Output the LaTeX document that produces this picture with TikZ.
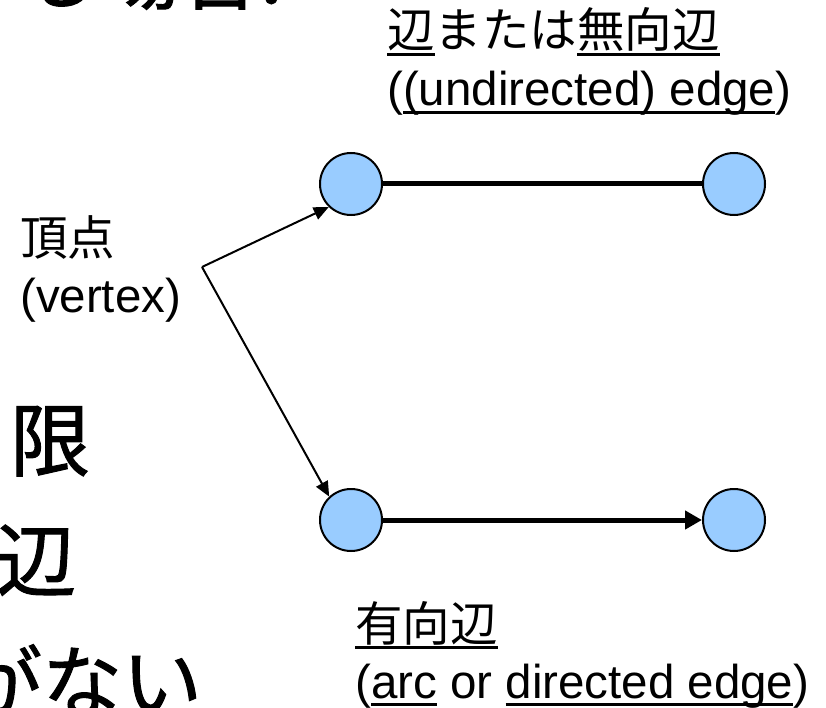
\documentclass[tikz,border=0pt]{standalone}
\usepackage{fontspec}
\setmainfont{Liberation Sans}
\newfontfamily\jp{Noto Sans CJK JP}
\newfontfamily\jpbig[FakeBold=1.2]{Noto Sans CJK JP}
\usetikzlibrary{arrows.meta}
\definecolor{vfill}{HTML}{99CCFF}
\newlength\ulwd
\newcommand\myul[1]{\settowidth{\ulwd}{#1}\rlap{\rule[-0.16em]{\ulwd}{0.065em}}#1}
\tikzset{
  vtx/.style={circle, draw=black, line width=2pt, fill=vfill, minimum size=62pt, inner sep=0pt},
  lbl/.style={anchor=base west, inner sep=0pt, font=\fontsize{47.5}{57}\selectfont},
  big/.style={anchor=base west, inner sep=0pt, font=\fontsize{80}{96}\selectfont\jpbig},
  thickedge/.style={line width=5pt},
  ptr/.style={line width=2pt, -{Triangle[length=15pt,width=13pt]}}
}
\begin{document}
\begin{tikzpicture}[x=1pt,y=-1pt]
\useasboundingbox (0,0) rectangle (826,708);
\clip (0,0) rectangle (826,708);
% cut-off body text on the left
\node[big] (t0) at (-60,3) {する場合:};
\node[big] (t1) at (10,470) {限};
\node[big] (t2) at (-4,590) {辺};
\node[big] (t3) at (-38,712) {がない};
% vertices
\node[vtx] (a) at (351,184) {};
\node[vtx] (b) at (734,184) {};
\node[vtx] (c) at (351,520) {};
\node[vtx] (d) at (734,520) {};
% edges
\draw[thickedge] (a) -- (b);
\draw[thickedge, -{Triangle[length=17pt,width=18pt]}] (c) -- (d);
% vertex label and pointers
\node[lbl] (v1) at (20,256) {\jp 頂点};
\node[lbl] (v2) at (20,312) {(vertex)};
\coordinate (vx) at (202,267);
\draw[ptr] (vx) -- (a.226);
\draw[ptr] (vx) -- (c.133);
% undirected edge label
\node[lbl] (u1) at (387,48) {\jp\myul{辺}または\myul{無向辺}};
\node[lbl] (u2) at (387,106) {(\myul{(undirected) edge})};
% directed edge label
\node[lbl] (e1) at (355,641) {\jp\myul{有向辺}};
\node[lbl] (e2) at (355,698) {(\myul{arc} or \myul{directed edge})};
\end{tikzpicture}
\end{document}
